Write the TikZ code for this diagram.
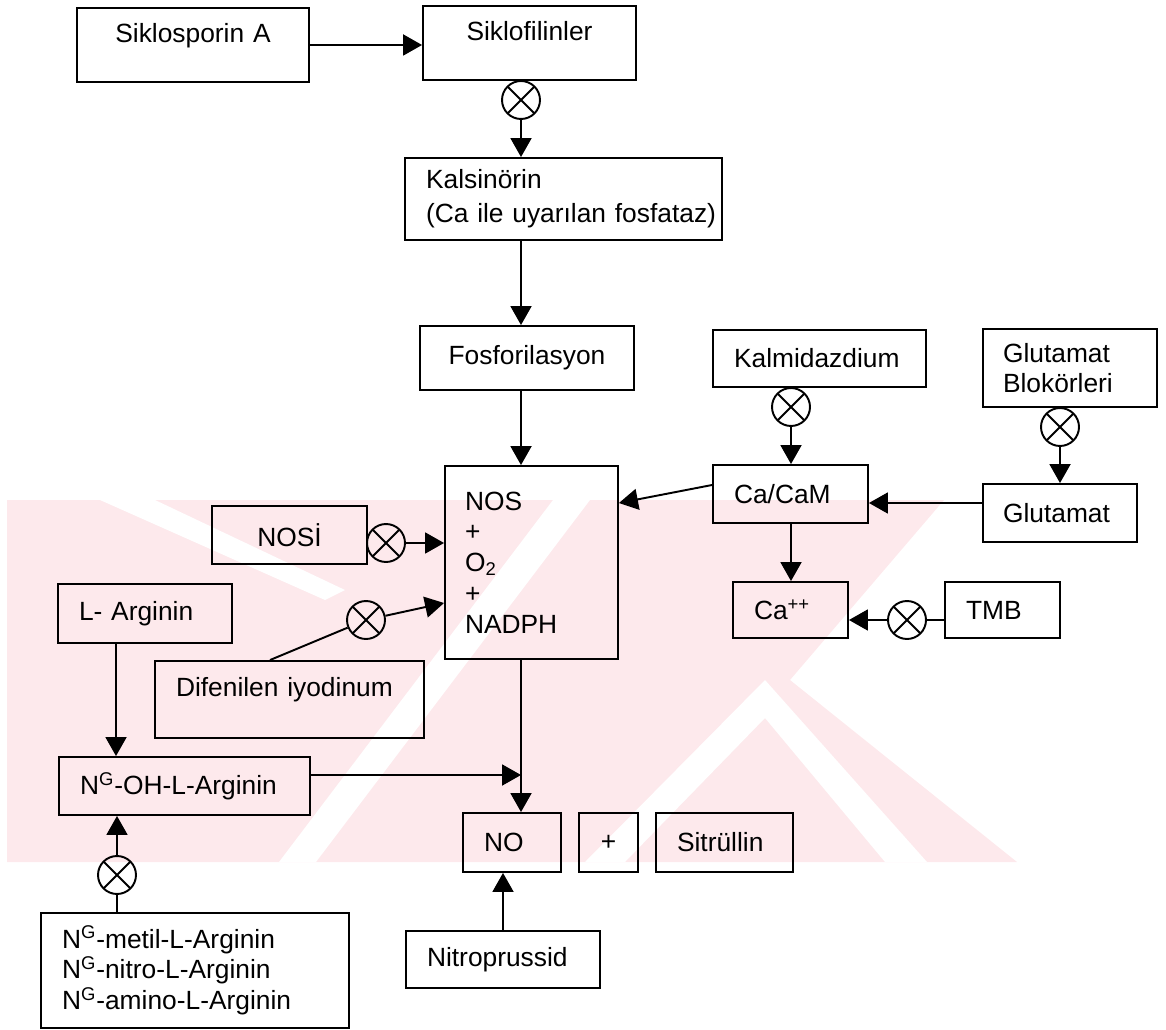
\documentclass[tikz,border=0pt]{standalone}
\usepackage{fontspec}
\setmainfont{Liberation Sans}
\usetikzlibrary{arrows.meta}
\definecolor{wmpink}{RGB}{253,233,236}

\begin{document}
\begin{tikzpicture}[x=0.02cm, y=-0.02cm, line width=1.1pt,
	font=\fontsize{15}{17.5}\selectfont,
	>={Triangle[length=0.38cm,width=0.42cm]},
	box/.style={draw, inner xsep=0.42cm, inner ysep=0pt, align=left},
	inhib/.style={circle, draw, minimum size=0.76cm, inner sep=0pt,
		path picture={\draw (path picture bounding box.north west) -- (path picture bounding box.south east)
			(path picture bounding box.north east) -- (path picture bounding box.south west);}}]
	\useasboundingbox (0,0) rectangle (1166,1030);
	% filigran
	\fill[wmpink] (7,500) -- (944,500) -- (790,680) -- (1017,862) -- (7,862) -- cycle;
	\fill[white] (553,500) -- (590,500) -- (316,862) -- (279,862) -- cycle;
	\fill[white] (100,500) -- (155,500) -- (345,590) -- (325,600) -- cycle;
	\fill[white] (585,862) -- (765,680) -- (927,862) -- (885,862) -- (765,718) -- (625,862) -- cycle;

	\node[box, align=center, text width=3.8cm, minimum height=1.48cm, text depth=0.49cm] (sikA) at (193,45) {Siklosporin A};
	\node[box, align=center, text width=3.42cm, minimum height=1.48cm, text depth=0.49cm] (siklo) at (529.5,43) {Siklofilinler};
	\node[inhib] (c1) at (521,100) {};
	\node[box, text width=5.5cm, minimum height=1.64cm] (kalsi) at (563.5,199) {Kalsinörin\\[2pt]\mbox{(Ca ile uyarılan fosfataz)}};
	\node[box, align=center, text width=3.44cm, minimum height=1.28cm] (fosfo) at (527,358) {Fosforilasyon};
	\node[box, text width=2.66cm, inner xsep=0.4cm, minimum height=3.86cm] (nos) at (531.5,562.5) {NOS\\+\\O\textsubscript{2}\\+\\NADPH};
	\node[box, align=center, text width=2.26cm, minimum height=1.16cm] (nosi) at (289.5,535) {NOSİ};
	\node[inhib] (c2) at (386,543) {};
	\node[box, text width=4.54cm, minimum height=1.54cm, text depth=0.49cm] (dif) at (289.5,699.5) {Difenilen iyodinum};
	\node[inhib] (c3) at (366,620) {};
	\node[box, text width=2.64cm, minimum height=1.18cm] (larg) at (145,613.5) {L- Arginin};
	\node[box, text width=4.18cm, minimum height=1.16cm] (ngoh) at (184.5,786) {N\textsuperscript{G}-OH-L-Arginin};
	\node[inhib] (c4) at (117,875) {};
	\node[box, text width=5.32cm, minimum height=2.3cm] (metil) at (195,970.5) {N\textsuperscript{G}-metil-L-Arginin\\N\textsuperscript{G}-nitro-L-Arginin\\N\textsuperscript{G}-amino-L-Arginin};
	\node[box, text width=1.12cm, minimum height=1.18cm] (no) at (512,842.5) {NO};
	\node[box, inner xsep=0pt, align=center, text width=1.18cm, minimum height=1.18cm] (plus) at (608.5,842.5) {+};
	\node[box, text width=1.9cm, minimum height=1.18cm] (sitr) at (724.5,842.5) {Sitrüllin};
	\node[box, text width=3.04cm, minimum height=1.14cm] (nitro) at (503,959.5) {Nitroprussid};
	\node[box, text width=3.42cm, minimum height=1.14cm] (kalm) at (819.5,358.5) {Kalmidazdium};
	\node[inhib] (c5) at (791,407) {};
	\node[box, text width=2.26cm, minimum height=1.16cm] (cacam) at (790.5,494) {Ca/CaM};
	\node[box, text width=2.68cm, inner xsep=0.4cm, minimum height=1.56cm] (glub) at (1070,368) {Glutamat\\Blokörleri};
	\node[inhib] (c6) at (1060,427) {};
	\node[box, text width=2.28cm, inner xsep=0.4cm, minimum height=1.16cm] (glut) at (1060,513) {Glutamat};
	\node[box, text width=1.46cm, minimum height=1.12cm] (cap) at (790.5,610) {Ca\textsuperscript{++}};
	\node[inhib] (c7) at (907,620) {};
	\node[box, text width=1.46cm, minimum height=1.12cm] (tmb) at (1002.5,610) {TMB};

	\coordinate (ax) at (521,0);
	\draw[->] (sikA) -- (sikA -| siklo.west);
	\draw[->] (c1) -- (c1 |- kalsi.north);
	\draw[->] (ax |- kalsi.south) -- (ax |- fosfo.north);
	\draw[->] (ax |- fosfo.south) -- (ax |- nos.north);
	\draw[->] (c2) -- (c2 -| nos.west);
	\draw ([xshift=-0.39cm]dif.north) -- (c3);
	\draw[->] (c3) -- ([yshift=-0.81cm]nos.west);
	\draw[->] ([yshift=0.18cm]cacam.west) -- ([yshift=1.19cm]nos.east);
	\coordinate (la) at ([xshift=-0.58cm]larg.south);
	\draw[->] (la) -- (la |- ngoh.north);
	\coordinate (ng) at ([yshift=0.22cm]ngoh.east);
	\draw[->] (ng) -- (ng -| ax);
	\draw[->] (ax |- nos.south) -- (ax |- no.north);
	\draw[->] (c4) -- (c4 |- ngoh.south);
	\draw (c4) -- (c4 |- metil.north);
	\draw[->] (nitro) -- (nitro |- no.south);
	\draw[->] (c5) -- (c5 |- cacam.north);
	\draw[->] (c6) -- (c6 |- glut.north);
	\coordinate (gl) at ([yshift=0.2cm]glut.west);
	\draw[->] (gl) -- (gl -| cacam.east);
	\draw[->] (c5 |- cacam.south) -- (c5 |- cap.north);
	\draw (tmb.west |- c7) -- (c7); %TMB
	\draw[->] (c7) -- (c7 -| cap.east);
\end{tikzpicture}
\end{document}
